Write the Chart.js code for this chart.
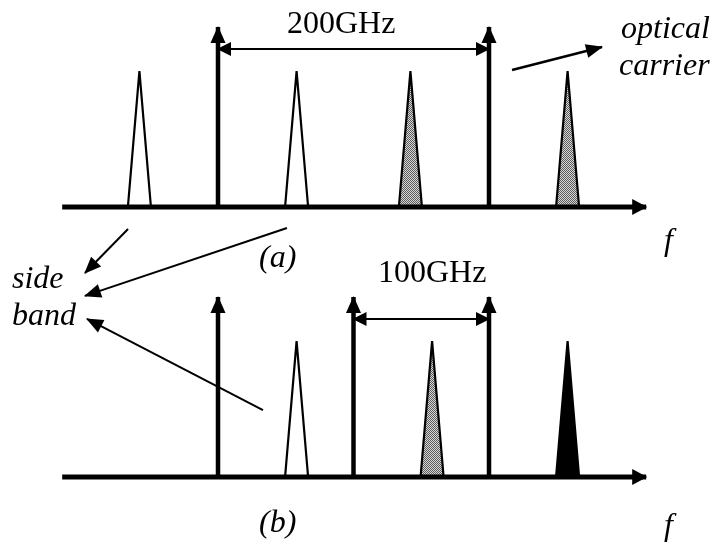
<!DOCTYPE html>
<html><head><meta charset="utf-8">
<script src="https://cdn.jsdelivr.net/npm/chart.js@4/dist/chart.umd.min.js"></script>
<style>html,body{margin:0;padding:0;background:#fff;} #wrap{width:715px;height:548px;}</style>
</head><body><div id="wrap"><canvas id="c" width="715" height="548"></canvas></div>
<script>
// ---------------- data (frequency in GHz, relative amplitude) ----------------
const panelLabels = ['(a)', '(b)'];
const carriersA = [0, 200];
const carriersB = [0, 100, 200];
const sidebandsA = [-58, 58, 142, 258];
const sidebandFillA = ['white', 'white', 'gray', 'gray'];
const sidebandsB = [58, 158, 258];
const sidebandFillB = ['white', 'gray', 'black'];
const carrierLevel = [1.0];
const sidebandLevel = [0.755];
const sidebandHalfWidth = [8.5];
const axisRange = [-115, 316];
const spacingA = [0, 200];
const spacingB = [100, 200];
const spacingLabels = ['200GHz', '100GHz'];
const axisLabel = 'f';
const carrierNote = ['optical', 'carrier'];
const sidebandNote = ['side', 'band'];

// ---------------- layout ----------------
const W = 715, H = 548;
const pxPerGHz = 1.355, originPx = 218;      // x placement of the 0 GHz carrier
const pxPerUnit = 180, baseBPx = 477;        // y placement of panel (b) baseline
const baseA = 1.5, baseB = 0;                // panel (a) drawn above panel (b)
const spacingLevel = 0.878;
const xMin = -originPx / pxPerGHz, xMax = (W - originPx) / pxPerGHz;
const yMax = baseBPx / pxPerUnit, yMin = -(H - baseBPx) / pxPerUnit;

const canvas = document.getElementById('c');
const ctx0 = canvas.getContext('2d');
function ditherPattern() {
  const c = document.createElement('canvas'); c.width = 2; c.height = 2;
  const g = c.getContext('2d');
  g.fillStyle = '#d8d8d8'; g.fillRect(0, 0, 2, 2);
  g.fillStyle = '#5a5a5a'; g.fillRect(0, 0, 1, 1); g.fillRect(1, 1, 1, 1);
  return ctx0.createPattern(c, 'repeat');
}
const gray = ditherPattern();
const fillOf = n => n === 'gray' ? gray : (n === 'black' ? '#000' : '#fff');

const datasets = [];
function line(points, width, arrow, order) {
  datasets.push({ data: points, borderColor: '#000', borderWidth: width, pointRadius: 0,
    fill: false, showLine: true, clip: false, arrow: arrow, order: order, borderCapStyle: 'butt' });
}
function sideband(f, base, fill) {
  const hw = sidebandHalfWidth[0];
  datasets.push({ data: [{x: f - hw, y: base}, {x: f, y: base + sidebandLevel[0]}, {x: f + hw, y: base}],
    borderColor: '#000', borderWidth: 2.2, backgroundColor: fillOf(fill), fill: {value: base},
    pointRadius: 0, showLine: true, clip: false, order: 5, borderJoinStyle: 'miter' });
}
// panel (a)
sidebandsA.forEach((f, i) => sideband(f, baseA, sidebandFillA[i]));
carriersA.forEach(f => line([{x: f, y: baseA}, {x: f, y: baseA + carrierLevel[0]}], 4.5, {end: true, len: 16, w: 15}, 2));
line([{x: axisRange[0], y: baseA}, {x: axisRange[1], y: baseA}], 5, {end: true, len: 14, w: 16}, 1);
line([{x: spacingA[0], y: baseA + spacingLevel}, {x: spacingA[1], y: baseA + spacingLevel}], 2, {start: true, end: true, len: 13, w: 14}, 1);
// panel (b)
sidebandsB.forEach((f, i) => sideband(f, baseB, sidebandFillB[i]));
carriersB.forEach(f => line([{x: f, y: baseB}, {x: f, y: baseB + carrierLevel[0]}], 4.5, {end: true, len: 16, w: 15}, 2));
line([{x: axisRange[0], y: baseB}, {x: axisRange[1], y: baseB}], 5, {end: true, len: 14, w: 16}, 1);
line([{x: spacingB[0], y: baseB + spacingLevel}, {x: spacingB[1], y: baseB + spacingLevel}], 2, {start: true, end: true, len: 13, w: 14}, 1);
// annotation pointers
line([{x: 217, y: 2.261}, {x: 283.4, y: 2.389}], 2.5, {end: true, len: 16, w: 14}, 1);
line([{x: -66.4, y: 1.378}, {x: -98.2, y: 1.133}], 2, {end: true, len: 16, w: 14}, 1);
line([{x: 50.9, y: 1.383}, {x: -98.2, y: 1.006}], 2, {end: true, len: 16, w: 14}, 1);
line([{x: 33.2, y: 0.372}, {x: -96.7, y: 0.878}], 2, {end: true, len: 16, w: 14}, 1);

function head(ctx, from, to, len, w) {
  const a = Math.atan2(to.y - from.y, to.x - from.x);
  ctx.save(); ctx.translate(to.x, to.y); ctx.rotate(a);
  ctx.beginPath(); ctx.moveTo(1, 0); ctx.lineTo(-len, -w / 2); ctx.lineTo(-len, w / 2); ctx.closePath();
  ctx.fillStyle = '#000'; ctx.fill(); ctx.restore();
}
const arrowPlugin = {
  id: 'arrows',
  afterDatasetsDraw(chart) {
    const ctx = chart.ctx;
    chart.data.datasets.forEach((ds, i) => {
      if (!ds.arrow) return;
      const pts = chart.getDatasetMeta(i).data, n = pts.length;
      if (ds.arrow.end) head(ctx, pts[n - 2], pts[n - 1], ds.arrow.len, ds.arrow.w);
      if (ds.arrow.start) head(ctx, pts[1], pts[0], ds.arrow.len, ds.arrow.w);
    });
  },
  afterDraw(chart) {
    const ctx = chart.ctx;
    const txt = (s, x, y, italic) => {
      ctx.font = (italic ? 'italic ' : '') + '32px "Liberation Serif", "Times New Roman", serif';
      ctx.fillStyle = '#000'; ctx.textAlign = 'left'; ctx.textBaseline = 'alphabetic';
      ctx.fillText(s, x, y);
    };
    ctx.save();
    txt(spacingLabels[0], 287, 33, false);
    txt(spacingLabels[1], 378, 282, false);
    txt(carrierNote[0], 621, 38, true);
    txt(carrierNote[1], 619, 75, true);
    txt(sidebandNote[0], 12, 288, true);
    txt(sidebandNote[1], 12, 325, true);
    txt(panelLabels[0], 259, 267, true);
    txt(panelLabels[1], 259, 532, true);
    txt(axisLabel, 664, 250, true);
    txt(axisLabel, 664, 535, true);
    ctx.restore();
  }
};

new Chart(canvas, {
  type: 'scatter',
  data: { datasets: datasets },
  options: {
    responsive: false, animation: false, devicePixelRatio: 1,
    layout: { padding: 0 },
    plugins: { legend: { display: false }, tooltip: { enabled: false } },
    scales: {
      x: { type: 'linear', min: xMin, max: xMax, display: false },
      y: { type: 'linear', min: yMin, max: yMax, display: false }
    },
    elements: { line: { tension: 0 }, point: { radius: 0 } }
  },
  plugins: [arrowPlugin]
});
</script></body></html>
